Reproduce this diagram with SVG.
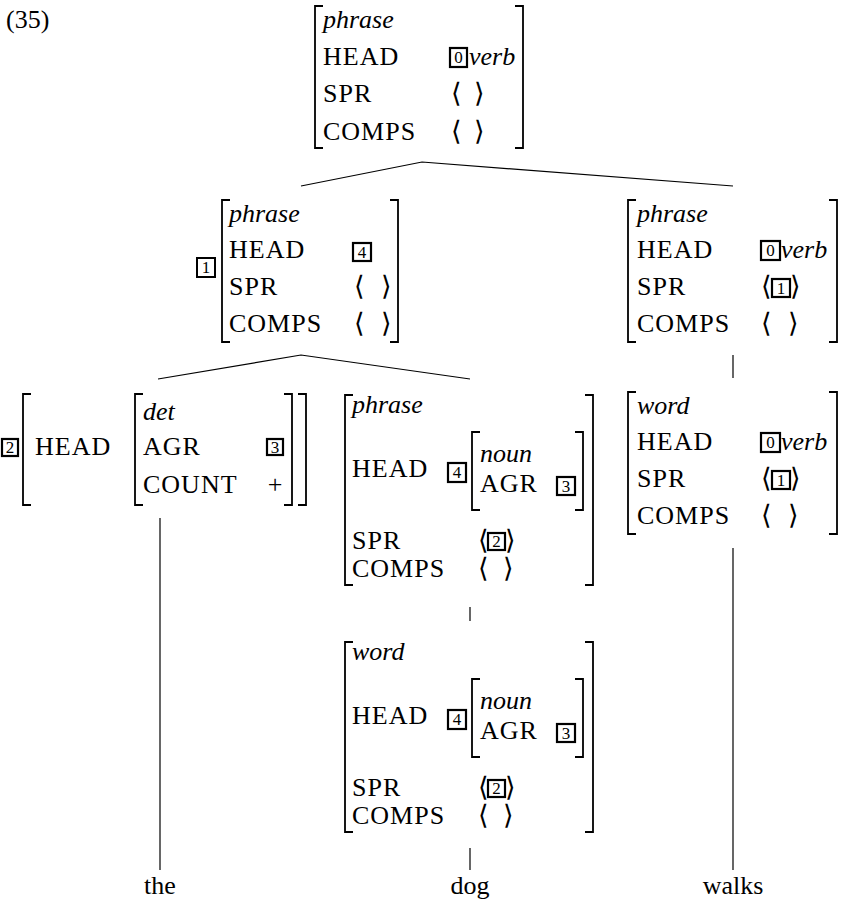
<svg xmlns="http://www.w3.org/2000/svg" width="841" height="903" viewBox="0 0 841 903">
<defs>
<style type="text/css">
text{font-family:"Liberation Serif","Times New Roman",serif;font-size:26px;fill:#000}
.c{letter-spacing:1px}
.i{font-style:italic}
.a{font-family:"DejaVu Serif",serif;font-size:27px}
.n{font-size:17px;text-anchor:middle}
.m{text-anchor:middle}
.b{fill:none;stroke:#000;stroke-width:2}
.k{fill:none;stroke:#000;stroke-width:2.2}
.br{fill:none;stroke:#000;stroke-width:1.8}
.ln{fill:none;stroke:#000;stroke-width:1.2}
</style>
</defs>
<rect width="841" height="903" fill="#fff"/>
<text x="6" y="28">(35)</text>

<g id="n0">
<path class="br" d="M323,6H315V148H323M515,6H523V148H515"/>
<text class="i" x="323" y="28">phrase</text>
<text class="c" x="323" y="65">HEAD</text>
<rect class="k" x="450" y="48" width="17" height="19"/><text class="n" x="458.5" y="63">0</text>
<text class="i" x="469" y="65">verb</text>
<text class="c" x="323" y="102">SPR</text>
<text class="a" x="451" y="102">⟨</text><text class="a" x="474" y="102">⟩</text>
<text class="c" x="323" y="140">COMPS</text>
<text class="a" x="451" y="140">⟨</text><text class="a" x="474" y="140">⟩</text>
</g>

<g id="n1">
<rect class="b" x="197" y="258" width="18" height="19"/><text class="n" x="206" y="273">1</text>
<path class="br" d="M230,200H222V342H230M390,200H398V342H390"/>
<text class="i" x="229" y="222">phrase</text>
<text class="c" x="229" y="258">HEAD</text>
<rect class="k" x="353" y="243" width="18" height="18"/><text class="n" x="362" y="258">4</text>
<text class="c" x="229" y="295">SPR</text>
<text class="a" x="354" y="295">⟨</text><text class="a" x="381" y="295">⟩</text>
<text class="c" x="229" y="332">COMPS</text>
<text class="a" x="354" y="332">⟨</text><text class="a" x="381" y="332">⟩</text>
</g>

<g id="n2">
<path class="br" d="M636,200H628V342H636M829,200H837V342H829"/>
<text class="i" x="637" y="222">phrase</text>
<text class="c" x="637" y="258">HEAD</text>
<rect class="k" x="761" y="241" width="19" height="19"/><text class="n" x="770.5" y="256">0</text>
<text class="i" x="781" y="258">verb</text>
<text class="c" x="637" y="295">SPR</text>
<text class="a" x="761" y="295">⟨</text>
<rect class="k" x="772" y="279" width="18" height="18"/><text class="n" x="781" y="294">1</text>
<text class="a" x="790" y="295">⟩</text>
<text class="c" x="637" y="332">COMPS</text>
<text class="a" x="761" y="332">⟨</text><text class="a" x="788" y="332">⟩</text>
</g>

<g id="n3" transform="translate(0,192)">
<path class="br" d="M636,200H628V342H636M829,200H837V342H829"/>
<text class="i" x="637" y="222">word</text>
<text class="c" x="637" y="258">HEAD</text>
<rect class="k" x="761" y="241" width="19" height="19"/><text class="n" x="770.5" y="256">0</text>
<text class="i" x="781" y="258">verb</text>
<text class="c" x="637" y="295">SPR</text>
<text class="a" x="761" y="295">⟨</text>
<rect class="k" x="772" y="279" width="18" height="18"/><text class="n" x="781" y="294">1</text>
<text class="a" x="790" y="295">⟩</text>
<text class="c" x="637" y="332">COMPS</text>
<text class="a" x="761" y="332">⟨</text><text class="a" x="788" y="332">⟩</text>
</g>

<g id="n4">
<rect class="k" x="2" y="439" width="16" height="17"/><text class="n" x="10" y="453">2</text>
<path class="br" d="M31,394H23V505H31M298,394H306V505H298"/>
<text class="c" x="35" y="455">HEAD</text>
<path class="br" d="M143,394H135V505H143M284,394H292V505H284"/>
<text class="i" x="143" y="420">det</text>
<text class="c" x="143" y="455">AGR</text>
<rect class="k" x="267" y="439" width="16" height="16"/><text class="n" x="275" y="453">3</text>
<text class="c" x="143" y="493">COUNT</text>
<text class="m" x="275" y="493">+</text>
</g>

<g id="n5">
<path class="br" d="M353,395H345V585H353M585,395H593V585H585"/>
<text class="i" x="352" y="413">phrase</text>
<text class="c" x="352" y="477">HEAD</text>
<rect class="k" x="448" y="463" width="18" height="19"/><text class="n" x="457" y="478">4</text>
<path class="br" d="M480,432H472V510H480M575,432H583V510H575"/>
<text class="i" x="480" y="462">noun</text>
<text class="c" x="480" y="492">AGR</text>
<rect class="k" x="557" y="477" width="18" height="18"/><text class="n" x="566" y="492">3</text>
<text class="c" x="352" y="549">SPR</text>
<text class="a" x="478" y="549">⟨</text>
<rect class="k" x="488" y="533" width="17" height="17"/><text class="n" x="496.5" y="547">2</text>
<text class="a" x="505" y="549">⟩</text>
<text class="c" x="352" y="577">COMPS</text>
<text class="a" x="478" y="577">⟨</text><text class="a" x="503" y="577">⟩</text>
</g>

<g id="n6" transform="translate(0,247)">
<path class="br" d="M353,395H345V585H353M585,395H593V585H585"/>
<text class="i" x="352" y="413">word</text>
<text class="c" x="352" y="477">HEAD</text>
<rect class="k" x="448" y="463" width="18" height="19"/><text class="n" x="457" y="478">4</text>
<path class="br" d="M480,432H472V510H480M575,432H583V510H575"/>
<text class="i" x="480" y="462">noun</text>
<text class="c" x="480" y="492">AGR</text>
<rect class="k" x="557" y="477" width="18" height="18"/><text class="n" x="566" y="492">3</text>
<text class="c" x="352" y="549">SPR</text>
<text class="a" x="478" y="549">⟨</text>
<rect class="k" x="488" y="533" width="17" height="17"/><text class="n" x="496.5" y="547">2</text>
<text class="a" x="505" y="549">⟩</text>
<text class="c" x="352" y="577">COMPS</text>
<text class="a" x="478" y="577">⟨</text><text class="a" x="503" y="577">⟩</text>
</g>

<g id="w-the"><text class="m" x="160" y="894">the</text></g>
<g id="w-dog"><text class="m" x="470" y="894">dog</text></g>
<g id="w-walks"><text class="m" x="733" y="894">walks</text></g>

<g id="connectors">
<polyline class="ln" points="301,186 422,162 733,186"/>
<polyline class="ln" points="158,379 301,355 470,379"/>
<line class="ln" x1="733" y1="355" x2="733" y2="378"/>
<line class="ln" x1="470" y1="607" x2="470" y2="621"/>
<line class="ln" x1="470" y1="848" x2="470" y2="870"/>
<line class="ln" x1="160" y1="518" x2="160" y2="870"/>
<line class="ln" x1="733" y1="548" x2="733" y2="870"/>
</g>
</svg>
